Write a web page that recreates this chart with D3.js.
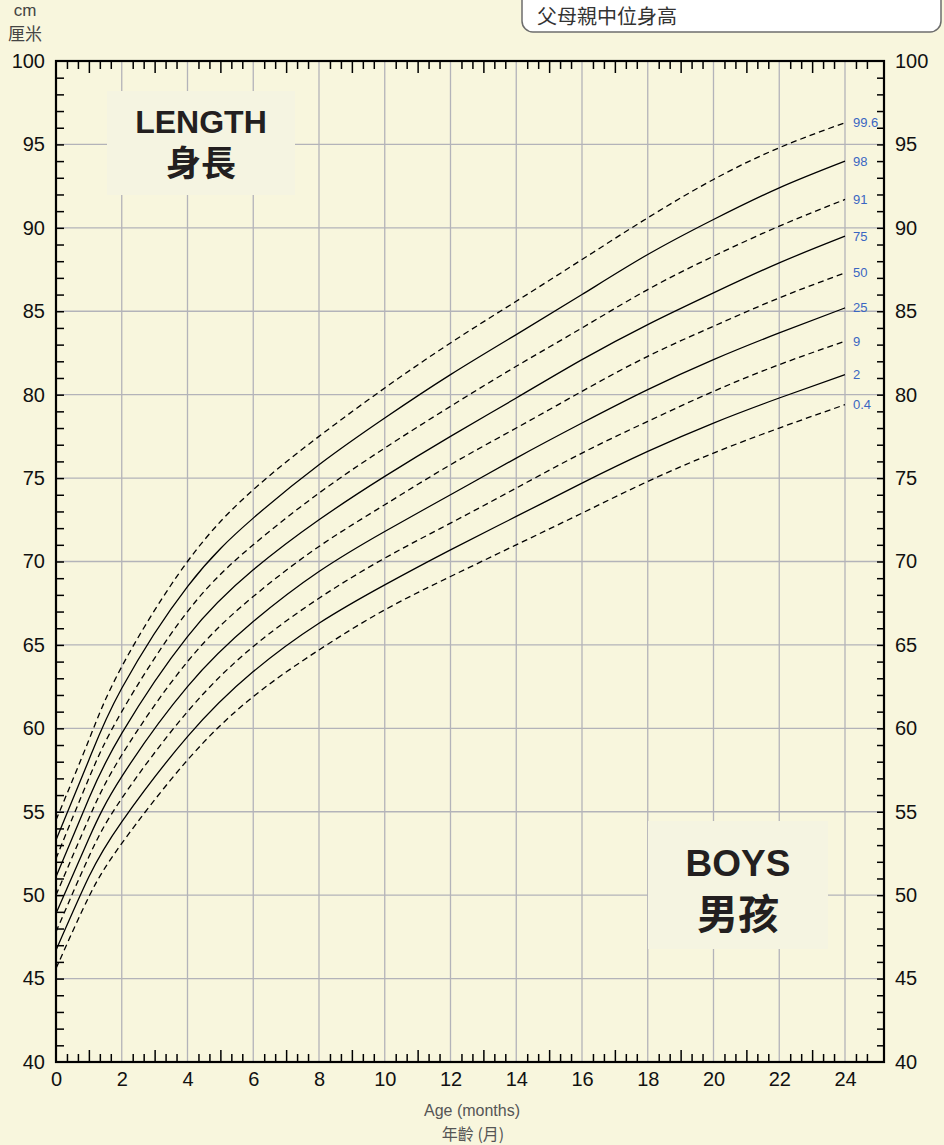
<!DOCTYPE html>
<html>
<head>
<meta charset="utf-8">
<script src="https://cdn.jsdelivr.net/npm/d3@7"></script>
<style>
  body { margin: 0; background: #f8f6dd; }
  svg { display: block; font-family: "Liberation Sans", Arial, "Noto Sans CJK TC", sans-serif; }
</style>
</head>
<body>
<div id="chart"></div>
<script>
var months = [0, 1, 2, 4, 6, 8, 10, 12, 14, 16, 18, 20, 22, 24];

// length (cm) per centile
var c004 = [45.6, 49.9, 53.1, 58.1, 61.9, 64.7, 67.1, 69.1, 71.0, 72.9, 74.8, 76.5, 78.0, 79.4];
var c02  = [46.7, 51.1, 54.4, 59.5, 63.4, 66.3, 68.6, 70.7, 72.7, 74.7, 76.6, 78.3, 79.8, 81.2];
var c09  = [47.8, 52.3, 55.8, 61.0, 64.9, 67.8, 70.2, 72.3, 74.4, 76.5, 78.4, 80.2, 81.8, 83.2];
var c25  = [48.9, 53.4, 57.1, 62.5, 66.4, 69.4, 71.8, 74.0, 76.2, 78.3, 80.3, 82.1, 83.7, 85.2];
var c50  = [50.0, 54.6, 58.4, 64.0, 67.9, 70.9, 73.4, 75.8, 78.0, 80.2, 82.3, 84.1, 85.8, 87.3];
var c75  = [51.1, 55.8, 59.7, 65.5, 69.5, 72.5, 75.1, 77.5, 79.8, 82.1, 84.2, 86.1, 87.9, 89.5];
var c91  = [52.2, 57.0, 61.0, 67.0, 71.0, 74.1, 76.8, 79.3, 81.7, 84.0, 86.3, 88.3, 90.1, 91.7];
var c98  = [53.3, 58.1, 62.4, 68.5, 72.6, 75.8, 78.6, 81.2, 83.6, 86.0, 88.4, 90.5, 92.4, 94.0];
var c996 = [54.5, 59.3, 63.7, 70.0, 74.3, 77.5, 80.4, 83.1, 85.6, 88.1, 90.6, 92.9, 94.8, 96.3];

var centileNames = ["0.4", "2", "9", "25", "50", "75", "91", "98", "99.6"];
var centileData = [c004, c02, c09, c25, c50, c75, c91, c98, c996];
var dashedCentiles = ["0.4", "9", "50", "91", "99.6"];

var yTicks = [40, 45, 50, 55, 60, 65, 70, 75, 80, 85, 90, 95, 100];
var xTicks = [0, 2, 4, 6, 8, 10, 12, 14, 16, 18, 20, 22, 24];

var svgWidth = 944;
var svgHeight = 1145;
var margin = { top: 61, right: 60, bottom: 83, left: 56 };
var width = svgWidth - margin.left - margin.right;
var height = svgHeight - margin.top - margin.bottom;

var svg = d3.select("#chart").append("svg")
  .attr("width", svgWidth)
  .attr("height", svgHeight);

svg.append("rect").attr("width", svgWidth).attr("height", svgHeight).attr("fill", "#f8f6dd");

var x = d3.scaleLinear().domain([0, width / 32.875]).range([margin.left, margin.left + width]);
var y = d3.scaleLinear().domain([40, 100]).range([margin.top + height, margin.top]);

// grid
var grid = svg.append("g").attr("stroke", "#b3b3b9").attr("stroke-width", 1.3);
grid.selectAll(".vg").data(xTicks.slice(1)).enter().append("line")
  .attr("x1", d => x(d)).attr("x2", d => x(d))
  .attr("y1", margin.top).attr("y2", margin.top + height);
grid.selectAll(".hg").data(yTicks.slice(1, -1)).enter().append("line")
  .attr("x1", margin.left).attr("x2", margin.left + width)
  .attr("y1", d => y(d)).attr("y2", d => y(d));

// title boxes
function titleBox(x0, y0, w, h, big, bigSize, bigY, cn, cnSize, cnY) {
  svg.append("rect").attr("x", x0).attr("y", y0).attr("width", w).attr("height", h)
    .attr("fill", "#f5f4e1");
  svg.append("text").attr("x", x0 + w / 2).attr("y", bigY)
    .attr("text-anchor", "middle").attr("font-weight", "bold")
    .attr("font-size", bigSize).attr("fill", "#231f20").text(big);
  svg.append("text").attr("x", x0 + w / 2).attr("y", cnY)
    .attr("text-anchor", "middle").attr("font-weight", "bold")
    .attr("font-family", "'Noto Sans CJK TC', sans-serif")
    .attr("font-size", cnSize).attr("fill", "#231f20").text(cn);
}
titleBox(107, 91, 188, 104, "LENGTH", 32, 133, "身長", 35, 176);
titleBox(648, 821, 180, 128, "BOYS", 37, 876, "男孩", 41, 929);

// ticks (frame axes)
var minor = d3.range(0, 76).filter(i => i % 3 !== 0).map(i => i / 3);
var odd = d3.range(1, 25, 2);
var cmTicks = d3.range(41, 100);

function cleanAxis(g) { g.select(".domain").remove(); g.selectAll(".tick line").attr("stroke", "#000").attr("stroke-width", 1.5); }

svg.append("g").attr("transform", `translate(0,${margin.top})`)
  .call(d3.axisTop(x).tickValues(minor).tickSize(-8).tickFormat("")).call(cleanAxis);
svg.append("g").attr("transform", `translate(0,${margin.top})`)
  .call(d3.axisTop(x).tickValues(odd).tickSize(-12).tickFormat("")).call(cleanAxis);
svg.append("g").attr("transform", `translate(0,${margin.top + height})`)
  .call(d3.axisBottom(x).tickValues(minor).tickSize(-8).tickFormat("")).call(cleanAxis);
svg.append("g").attr("transform", `translate(0,${margin.top + height})`)
  .call(d3.axisBottom(x).tickValues(odd).tickSize(-12).tickFormat("")).call(cleanAxis);
svg.append("g").attr("transform", `translate(${margin.left},0)`)
  .call(d3.axisLeft(y).tickValues(cmTicks).tickSize(-8).tickFormat("")).call(cleanAxis);
svg.append("g").attr("transform", `translate(${margin.left + width},0)`)
  .call(d3.axisRight(y).tickValues(cmTicks).tickSize(-7).tickFormat("")).call(cleanAxis);

// tick labels
function labelAxis(g) {
  g.select(".domain").remove();
  g.selectAll(".tick line").remove();
  g.selectAll("text").attr("font-size", 20).attr("fill", "#111")
    .attr("font-family", "'Liberation Sans', Arial, sans-serif");
}
svg.append("g").attr("transform", `translate(${margin.left},0)`)
  .call(d3.axisLeft(y).tickValues(yTicks).tickSize(0).tickPadding(11)).call(labelAxis);
svg.append("g").attr("transform", `translate(${margin.left + width},0)`)
  .call(d3.axisRight(y).tickValues(yTicks).tickSize(0).tickPadding(11)).call(labelAxis);
svg.append("g").attr("transform", `translate(0,${margin.top + height})`)
  .call(d3.axisBottom(x).tickValues(xTicks).tickSize(0).tickPadding(10)).call(labelAxis);

// frame
svg.append("rect").attr("x", margin.left).attr("y", margin.top)
  .attr("width", width).attr("height", height)
  .attr("fill", "none").attr("stroke", "#000").attr("stroke-width", 2.2);

// centile curves
var line = d3.line()
  .x((d, i) => x(months[i]))
  .y(d => y(d))
  .curve(d3.curveNatural);

centileData.forEach(function(vals, k) {
  var name = centileNames[k];
  svg.append("path").datum(vals)
    .attr("d", line)
    .attr("fill", "none")
    .attr("stroke", "#000")
    .attr("stroke-width", 1.3)
    .attr("stroke-dasharray", dashedCentiles.includes(name) ? "6,4" : null);
  svg.append("text")
    .attr("x", x(24) + 8)
    .attr("y", y(vals[vals.length - 1]))
    .attr("dy", "0.35em")
    .attr("font-size", 13)
    .attr("fill", "#3a66c2")
    .text(name);
});

// units and axis titles
svg.append("text").attr("x", 25).attr("y", 16).attr("text-anchor", "middle")
  .attr("font-size", 17).attr("fill", "#444").text("cm");
svg.append("text").attr("x", 25).attr("y", 40).attr("text-anchor", "middle")
  .attr("font-family", "'Noto Sans CJK TC', sans-serif")
  .attr("font-size", 17).attr("fill", "#444").text("厘米");
svg.append("text").attr("x", 472).attr("y", 1116).attr("text-anchor", "middle")
  .attr("font-size", 16).attr("fill", "#555").text("Age (months)");
svg.append("text").attr("x", 473).attr("y", 1140).attr("text-anchor", "middle")
  .attr("font-family", "'Noto Sans CJK TC', sans-serif")
  .attr("font-size", 16).attr("fill", "#555").text("年齡 (月)");

// mid-parental height box (cut off at top)
svg.append("rect").attr("x", 522).attr("y", -30).attr("width", 419).attr("height", 62)
  .attr("rx", 11).attr("fill", "#fff").attr("stroke", "#6d6d6d").attr("stroke-width", 1.5);
svg.append("text").attr("x", 537).attr("y", 24)
  .attr("font-family", "'Noto Sans CJK TC', sans-serif")
  .attr("font-size", 20).attr("fill", "#333").text("父母親中位身高");
</script>
</body>
</html>
